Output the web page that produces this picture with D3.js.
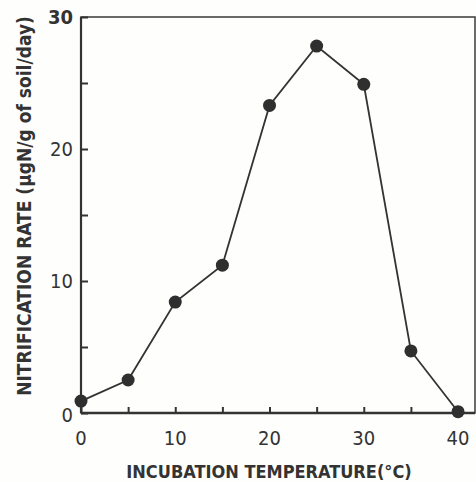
<!DOCTYPE html>
<html>
<head>
<meta charset="utf-8">
<script src="https://cdn.jsdelivr.net/npm/d3@7"></script>
<style>
  body { margin: 0; background: #fefefc; }
  text { fill: #333; }
</style>
</head>
<body>
<div id="plot"></div>
<script>
// incubation temperature (C) vs nitrification rate
var temps = [0, 5, 10, 15, 20, 25, 30, 35, 40];
var rates = [0.9, 2.5, 8.4, 11.2, 23.3, 27.8, 24.9, 4.7, 0.1];
var xTicks = [0, 10, 20, 30, 40];
var xMinor = [5, 15, 25, 35];
var yTicks = [0, 10, 20, 30];
var yMinor = [5, 15, 25];

var W = 476, H = 482;
var margin = { top: 17, right: 1, bottom: 69, left: 81 };
var width = W - margin.left - margin.right,
    height = H - margin.top - margin.bottom;
var font = "'DejaVu Sans Condensed', 'DejaVu Sans', sans-serif";

var svg = d3.select("#plot").append("svg")
    .attr("width", W)
    .attr("height", H);

var g = svg.append("g")
    .attr("transform", "translate(" + margin.left + "," + margin.top + ")");

var x = d3.scaleLinear().domain([0, 41.8]).range([0, width]);
var y = d3.scaleLinear().domain([0, 30]).range([height, 0]);

// frame
g.append("rect")
    .attr("width", width)
    .attr("height", height)
    .attr("fill", "none")
    .attr("stroke", "#3a3a3a")
    .attr("stroke-width", 1.5);
g.append("line")
    .attr("x1", 0).attr("x2", width)
    .attr("y1", height).attr("y2", height)
    .attr("stroke", "#333").attr("stroke-width", 2.4);
g.append("line")
    .attr("x1", 0).attr("x2", 0)
    .attr("y1", 0).attr("y2", height)
    .attr("stroke", "#333").attr("stroke-width", 2.2);

// inward ticks
var xAxis = d3.axisTop(x).tickValues(xTicks.concat(xMinor)).tickSize(6).tickFormat("");
var yAxis = d3.axisRight(y).tickValues(yTicks.concat(yMinor)).tickSize(7).tickFormat("");

var gX = g.append("g")
    .attr("transform", "translate(0," + height + ")")
    .call(xAxis);
var gY = g.append("g").call(yAxis);
[gX, gY].forEach(function(a) {
  a.select(".domain").remove();
  a.selectAll(".tick line").attr("stroke", "#333").attr("stroke-width", 2);
});

// tick labels
g.selectAll(".xlab")
    .data(xTicks)
  .enter().append("text")
    .attr("class", "xlab")
    .attr("x", function(d) { return x(d); })
    .attr("y", height + 32)
    .attr("text-anchor", "middle")
    .style("font-family", font)
    .style("font-size", "20px")
    .text(function(d) { return d; });

g.selectAll(".ylab")
    .data(yTicks)
  .enter().append("text")
    .attr("class", "ylab")
    .attr("x", -8)
    .attr("y", function(d) { return d == 0 ? y(d) + 2 : y(d); })
    .attr("dy", "0.36em")
    .attr("text-anchor", "end")
    .style("font-family", font)
    .style("font-size", "20px")
    .style("font-weight", function(d) { return d == 30 ? "bold" : "normal"; })
    .text(function(d) { return d; });

// axis titles
svg.append("text")
    .attr("x", 269)
    .attr("y", 478)
    .attr("text-anchor", "middle")
    .style("font-family", font)
    .style("font-weight", "bold")
    .style("font-size", "18px")
    .text("INCUBATION TEMPERATURE(\u00b0C)");

svg.append("text")
    .attr("transform", "translate(31,206) rotate(-90)")
    .attr("text-anchor", "middle")
    .style("font-family", font)
    .style("font-weight", "bold")
    .style("font-size", "19px")
    .text("NITRIFICATION RATE (\u03bcgN/g of soil/day)");

// line and points
var line = d3.line()
    .x(function(d, i) { return x(temps[i]); })
    .y(function(d) { return y(d); });

g.append("path")
    .datum(rates)
    .attr("d", line)
    .attr("fill", "none")
    .attr("stroke", "#333")
    .attr("stroke-width", 1.8);

g.selectAll(".dot")
    .data(rates)
  .enter().append("circle")
    .attr("class", "dot")
    .attr("cx", function(d, i) { return x(temps[i]); })
    .attr("cy", function(d) { return y(d); })
    .attr("r", 6.5)
    .attr("fill", "#2f2f2f");
</script>
</body>
</html>
